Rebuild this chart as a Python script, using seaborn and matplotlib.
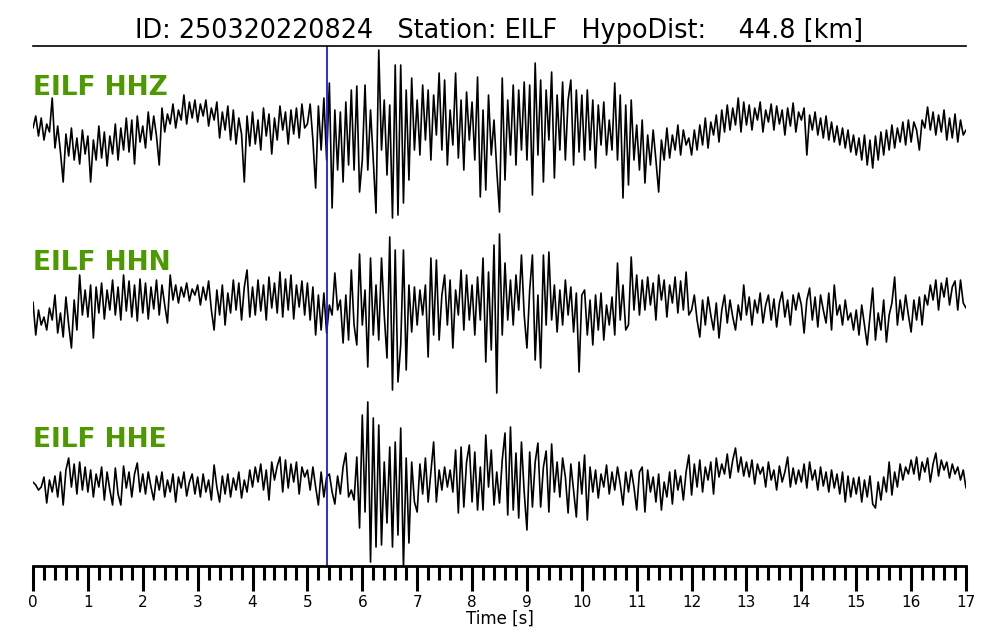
import numpy as np
import matplotlib
matplotlib.use("Agg")
import matplotlib.pyplot as plt
from matplotlib.ticker import MultipleLocator
import seaborn as sns

# trace samples (pixel-ish amplitude units), dt = 0.05 s
dt = 0.05
hhz = [
    2, 14, -6, 12, -10, 6, -2, 32, -18, 4, -22, -52, -4, -26, 2, -30, -8, -34, 0, -24,
    -6, -52, -10, -30, 4, -28, -2, -36, -6, -24, 6, -30, 2, -20, 12, -22, 10, -34, 14, -12,
    4, -18, 18, -10, 14, -6, -35, 22, -2, 16, 6, 26, 2, 20, 10, 35, 6, 28, 12, 30,
    8, 26, 14, 30, 4, 22, 10, 28, -8, 18, 0, 24, -10, 20, -14, 12, -4, -52, 14, -16,
    18, -14, 10, -20, 22, -6, 16, -24, 12, -10, 24, 0, 18, -14, 20, -4, 22, -8, 26, 2,
    6, 26, -10, -58, 24, -20, 32, -30, 47, -78, 20, -40, 18, -52, 28, -35, 40, -40, 44, -62,
    -30, 45, -40, 20, -30, -83, 80, -20, 30, -45, 25, -88, 65, -85, 65, -73, 40, -50, 52, -20,
    30, -25, 45, -10, 40, -30, 35, -5, 57, -20, 50, -35, 20, -15, 57, -28, 30, -40, 38, -10,
    28, -30, 53, -67, 20, -60, 35, -25, 10, -40, -82, 52, -50, 30, -25, 45, -35, 40, -20, 48,
    -30, 45, -65, 67, -25, 50, -52, 40, -10, 58, -48, 35, -20, 48, -30, 30, 50, -35, 40, -22,
    35, -30, 40, -20, 30, -38, 25, -15, 28, -25, 10, -20, 47, -30, 35, -68, 25, -55, 30, -30,
    5, -40, 10, -53, -5, -35, 0, -30, -62, -10, -30, 2, -28, -5, -20, 5, -25, 0, -15, -8,
    -25, 0, -20, 5, -15, 12, -18, 8, -5, 15, -12, 20, -2, 25, 0, 22, 5, 32, -2, 28,
    5, 25, 0, 22, 10, 28, -2, 20, 8, 26, 0, 24, 6, 20, -5, 22, 4, 27, -2, 18,
    10, 22, -25, 15, 0, 18, -5, 12, -8, 14, -10, 8, -12, 4, -15, 2, -18, 0, -22, -5,
    -25, -8, -30, -5, -35, -10, -38, -6, -30, -2, -25, 0, -20, 5, -18, 2, -12, 8, -15, 10,
    -12, 8, 0, -20, 10, 2, 23, 0, 18, -5, 15, -2, 20, -10, 12, -8, 16, -12, 10, -5, 0,
]
hhn = [
    3, -30, -5, -20, -12, -25, -3, -15, 10, -28, -8, -32, 8, -20, -43, 5, -25, 30, -10, 15,
    -12, 20, -33, 18, -8, 22, -14, 15, -5, 25, -10, 18, -15, 30, -6, 24, -12, 20, -16, 26,
    -8, 22, -14, 18, -4, 25, -10, 20, 0, -18, 30, 5, 20, 2, 18, 8, 22, 4, 16, 10,
    20, 0, 18, 5, 24, -5, -25, 15, -10, 20, -20, 12, -8, 25, -5, 22, -15, 18, 35, -12,
    18, -10, 25, -6, 20, -15, 28, -3, 22, -8, 33, -12, 26, -5, 30, -14, 20, -2, 24, -10,
    22, -15, 18, -30, 10, -25, 12, -28, 0, -10, 32, -5, 5, -38, 10, -35, 35, -20, -40, 51,
    -20, 15, -62, 47, -30, 20, -35, 47, -10, -53, 68, -85, 55, -77, -40, 55, -65, 20, -27, 18,
    -20, 15, -10, 20, -52, 47, -30, 45, -35, 10, 30, -20, 25, -43, 15, -10, 35, -25, 30, -15,
    20, -30, 28, -15, 47, -57, 33, -45, 60, -88, 71, -30, 42, -15, 25, -20, 30, -5, 50, -10,
    -43, 15, 50, -55, 10, -63, 50, -20, 53, -15, 20, -27, 15, -20, 25, -10, 18, -27, 12, -67,
    10, 15, -30, 5, -40, 10, -25, 12, -35, 0, -20, 8, -30, 42, -15, 20, -25, -20, 48, -5,
    30, -10, 25, -5, 28, 0, 22, -15, 30, 5, 25, -12, 20, 2, 28, -8, 24, -5, 33, -10,
    -5, 10, -15, -32, 5, -20, 8, -10, -25, 2, -33, -5, 10, -18, 5, -12, -25, 0, -15, 20,
    -10, 8, -20, 5, -8, 12, -18, 0, 10, -15, 6, -22, 2, 13, -12, 5, -20, 10, -5, 12,
    0, -28, 5, 17, -15, 8, -22, 10, -5, -18, 12, -25, 20, -10, 0, -20, 5, -15, -8, -25,
    -5, -30, 0, -20, -40, -12, 17, -35, -8, -25, 5, -37, -10, 2, 28, -20, 5, -15, 10, -10,
    -27, 5, -15, 8, -20, 10, 0, 20, 5, 25, -5, 22, 8, 27, 0, 18, 24, -5, 25, 2, -3,
]
hhe = [
    0, -3, -8, -5, 5, -21, 2, -10, 6, -15, 10, -23, 12, 24, -5, 18, -12, 20, -8, 15,
    -10, 12, -15, 8, -5, 15, -18, 10, -8, -23, 14, -12, -23, 16, -6, 10, -15, 8, 19, -10,
    8, -12, 10, -5, -18, 6, -8, 10, -15, 2, -10, 8, -20, 5, -6, 10, -14, 0, 8, -12,
    5, -15, 8, -10, 2, -18, 17, -5, -20, 6, -12, 8, -15, 4, -8, 10, -16, 2, -10, 12,
    -5, 15, 0, 18, -8, 12, -18, 20, 2, 16, 25, -10, 22, -6, 18, 0, 20, -12, 15, 5,
    12, -8, 15, -5, -23, 10, -15, 5, 8, -10, -22, 6, -12, 15, 29, -15, -8, -18, 25, -46,
    67, -30, 80, -80, 64, -65, 57, -63, 20, -41, 35, -65, 40, -53, 54, -85, 24, -61, 20, -20,
    -30, 18, -12, 24, -20, 10, 40, -20, 12, -8, 15, -5, 12, -10, 32, -31, 35, -25, 20, 37,
    -20, 30, -28, 15, -28, 47, -5, 32, -23, 10, -21, 22, 49, -33, 55, -28, 29, -36, 40, -10,
    -48, 30, -25, 20, 39, -25, 15, 31, -30, 38, -10, 20, -15, 24, 5, -31, 18, -8, -35, 20,
    -12, 27, -38, 15, -10, 12, -16, 8, -5, 17, -12, 10, -8, 15, -2, -23, 10, -10, 12, -5,
    -28, 10, 15, -30, 12, -10, 5, -20, 8, -28, 0, -15, 10, -22, 12, -8, 6, -18, 10, 27,
    -13, 18, -5, 22, -10, 15, 2, 20, -12, 24, 5, 18, 8, 28, 4, 22, 34, 10, 25, 6,
    20, 5, 22, -2, 18, 8, 15, -5, 20, 2, 12, -8, 16, 0, 10, 25, -5, 14, -2, 12,
    0, 18, -6, 20, 2, 12, -8, 15, -4, 10, -10, 12, -6, 8, -12, 10, -20, 6, -15, 4,
    -12, 5, -20, 2, -15, 6, -22, -26, 0, -18, 5, -10, 20, -13, 10, -5, 18, 2, 15, 8,
    22, 8, 25, 2, 20, 10, 24, 0, 18, 29, 6, 22, 12, 20, 4, 18, 8, 15, 2, 12, -6,
]
channels = ["EILF HHZ", "EILF HHN", "EILF HHE"]
pick_time = 5.36
title = "ID: 250320220824   Station: EILF   HypoDist:    44.8 [km]"

sns.set_style("white")
plt.rcParams["text.color"] = "black"
plt.rcParams["axes.labelcolor"] = "black"
plt.rcParams["xtick.color"] = "black"

fig = plt.figure(figsize=(10, 6.4), dpi=100)
ax = fig.add_axes([0.033, 0.1156, 0.933, 0.8125])

offsets = [436, 261, 84]
for name, tr, off in zip(channels, [hhz, hhn, hhe], offsets):
    tr = np.asarray(tr, dtype=float)
    t = np.arange(len(tr)) * dt
    sns.lineplot(x=t, y=tr + off, ax=ax, color="black", linewidth=1.2,
                 estimator=None, sort=False)
    ax.text(0, off + 42, name, color="#4c9a00", fontsize=19, fontweight="bold",
            ha="left", va="center")

ax.axvline(pick_time, color="#1f1fd0", linewidth=1.3)

ax.set_xlim(0, 17)
ax.set_ylim(0, 520)
ax.set_yticks([])
ax.xaxis.set_major_locator(MultipleLocator(1))
ax.xaxis.set_minor_locator(MultipleLocator(0.2))
ax.tick_params(axis="x", which="major", length=18, width=2.2, labelsize=11, pad=3,
               direction="out", bottom=True, color="black", labelcolor="black")
ax.tick_params(axis="x", which="minor", length=10, width=2.2, direction="out",
               bottom=True, color="black")
for s in ["left", "right"]:
    ax.spines[s].set_visible(False)
ax.spines["bottom"].set_linewidth(2)
ax.spines["bottom"].set_color("black")
ax.spines["top"].set_linewidth(1.2)
ax.spines["top"].set_color("black")
ax.set_xlabel("Time [s]", fontsize=12, labelpad=0, color="black")
ax.set_title(title, fontsize=18.4, pad=6, color="black")

fig.savefig("out.png", dpi=100)
